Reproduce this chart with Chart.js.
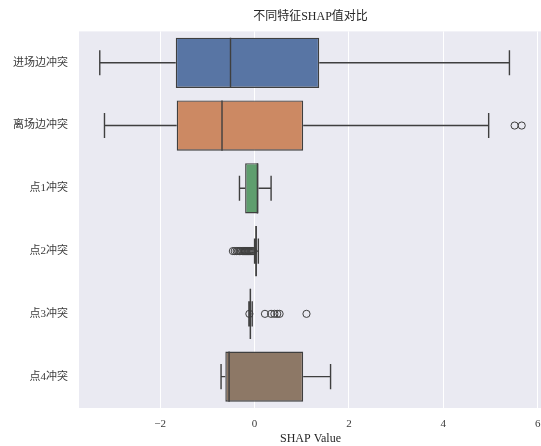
<!DOCTYPE html>
<html>
<head>
<meta charset="utf-8">
<script src="https://cdn.jsdelivr.net/npm/chart.js@4/dist/chart.umd.min.js"></script>
<style>
  html, body { margin: 0; padding: 0; background: #ffffff; overflow: hidden; }
  #wrap { width: 541px; height: 446px; overflow: hidden; }
</style>
</head>
<body>
<div id="wrap"><canvas id="c" width="547" height="446"></canvas></div>
<script>
// Feature names (one box per row)
const categories = ['进场边冲突', '离场边冲突', '点1冲突', '点2冲突', '点3冲突', '点4冲突'];
// Five-number summaries of SHAP values per feature
const whiskerLow  = [-3.28, -3.18, -0.32, 0.00, -0.12, -0.71];
const q1          = [-1.67, -1.65, -0.20, 0.02, -0.10, -0.62];
const median      = [-0.51, -0.69,  0.06, 0.03, -0.09, -0.54];
const q3          = [ 1.37,  1.03,  0.085, 0.05, -0.07, 1.03];
const whiskerHigh = [ 5.40,  4.96,  0.35, 0.08, -0.05, 1.61];
// Points beyond the whiskers
const outliers = [
  [],
  [5.51, 5.66],
  [],
  [-0.46, -0.42, -0.38, -0.35, -0.32, -0.29, -0.26, -0.23, -0.21, -0.19, -0.17, -0.15, -0.13, -0.11, -0.09, -0.07, -0.05, -0.03],
  [-0.11, 0.22, 0.35, 0.42, 0.48, 0.53, 1.10],
  []
];
const xTicks = [-2, 0, 2, 4, 6];

const boxColors = ['#5875a4', '#cc8963', '#5f9e6e', '#b55d60', '#857aab', '#8d7866'];
const lineColor = '#3f3f3f';
const FONT = "'Liberation Serif', 'Noto Sans CJK SC', serif";

const boxData = categories.map((c, i) => [q1[i], q3[i]]);
const outlierData = [];
outliers.forEach((arr, i) => arr.forEach(v => outlierData.push({ x: v, y: categories[i] })));

// Plot background
const panelBg = {
  id: 'panelBg',
  beforeDraw(chart) {
    const { ctx, chartArea: a } = chart;
    ctx.save();
    ctx.fillStyle = '#eaeaf2';
    ctx.fillRect(a.left, a.top, a.right - a.left, a.bottom - a.top);
    ctx.restore();
  }
};

// Whiskers, caps and median lines, positioned with the chart scales
const boxExtras = {
  id: 'boxExtras',
  afterDatasetsDraw(chart) {
    const { ctx, scales: { x, y } } = chart;
    const band = y.getPixelForValue(1) - y.getPixelForValue(0);
    const boxH = Math.abs(band) * 0.8;
    const capH = boxH / 2;
    ctx.save();
    ctx.strokeStyle = lineColor;
    ctx.lineWidth = 1.4;
    categories.forEach((c, i) => {
      const yc = y.getPixelForValue(i);
      const xl = x.getPixelForValue(whiskerLow[i]);
      const x1 = x.getPixelForValue(q1[i]);
      const x3 = x.getPixelForValue(q3[i]);
      const xh = x.getPixelForValue(whiskerHigh[i]);
      const xm = x.getPixelForValue(median[i]);
      ctx.beginPath();
      ctx.moveTo(xl, yc); ctx.lineTo(x1, yc);
      ctx.moveTo(x3, yc); ctx.lineTo(xh, yc);
      ctx.moveTo(xl, yc - capH / 2); ctx.lineTo(xl, yc + capH / 2);
      ctx.moveTo(xh, yc - capH / 2); ctx.lineTo(xh, yc + capH / 2);
      ctx.moveTo(xm, yc - boxH / 2); ctx.lineTo(xm, yc + boxH / 2);
      ctx.stroke();
    });
    ctx.restore();
  }
};

new Chart(document.getElementById('c'), {
  type: 'bar',
  data: {
    labels: categories,
    datasets: [
      {
        type: 'bar',
        data: boxData,
        backgroundColor: boxColors,
        borderColor: lineColor,
        borderWidth: 1.4,
        borderSkipped: false,
        categoryPercentage: 0.8,
        barPercentage: 1.0,
        order: 2
      },
      {
        type: 'scatter',
        data: outlierData,
        pointStyle: 'circle',
        pointRadius: 3.6,
        pointBackgroundColor: 'rgba(0,0,0,0)',
        pointBorderColor: lineColor,
        pointBorderWidth: 1,
        order: 1
      }
    ]
  },
  options: {
    indexAxis: 'y',
    responsive: false,
    animation: false,
    layout: { padding: { left: 0, right: 0, top: 0, bottom: 0 } },
    plugins: {
      legend: { display: false },
      tooltip: { enabled: false },
      title: {
        display: true,
        text: '不同特征SHAP值对比',
        fullSize: false,
        color: '#262626',
        font: { family: FONT, size: 12, weight: 'normal' },
        padding: { top: 10, bottom: 7 }
      }
    },
    scales: {
      x: {
        type: 'linear',
        min: -3.72,
        max: 6.09,
        afterBuildTicks(s) { s.ticks = xTicks.map(v => ({ value: v })); },
        afterFit(s) { s.height = 38; s.paddingLeft = 0; s.paddingRight = 0; },
        grid: { color: '#ffffff', lineWidth: 1, drawTicks: false },
        border: { display: false },
        ticks: {
          padding: 10,
          color: '#3a3a3a',
          font: { family: FONT, size: 11 },
          callback: v => (v < 0 ? '\u2212' + Math.abs(v) : String(v))
        },
        title: {
          display: true,
          text: 'SHAP Value',
          color: '#262626',
          font: { family: FONT, size: 12 },
          padding: { top: 0, bottom: 0 }
        }
      },
      y: {
        type: 'category',
        offset: true,
        afterFit(s) { s.width = 79; },
        grid: { display: false, drawTicks: false },
        border: { display: false },
        ticks: {
          padding: 11,
          color: '#3a3a3a',
          font: { family: FONT, size: 11 }
        }
      }
    }
  },
  plugins: [panelBg, boxExtras]
});
</script>
</body>
</html>
